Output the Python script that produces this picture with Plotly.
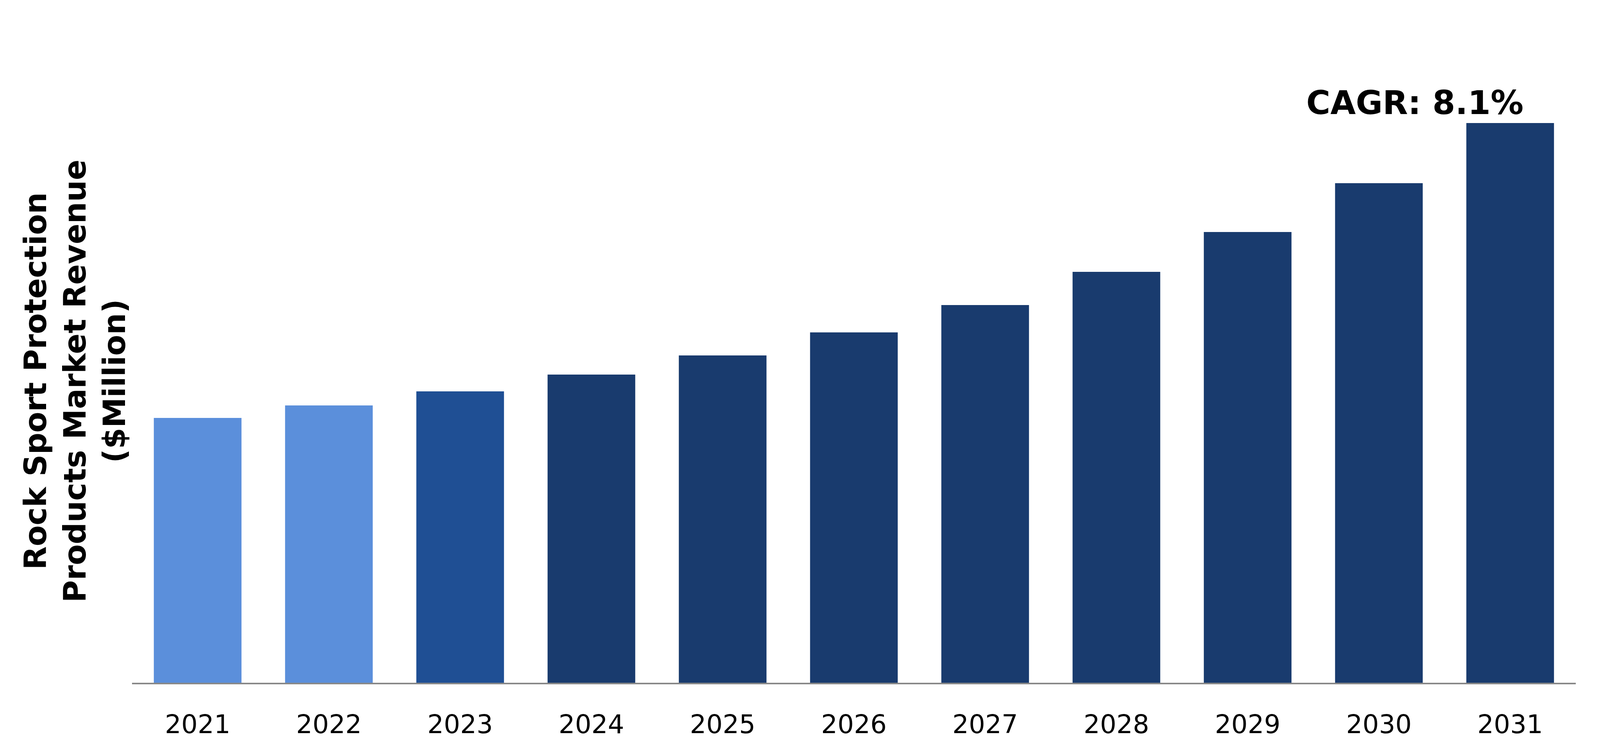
import plotly.graph_objects as go

# Rock sport protection products market revenue ($Million)
years = ['2021', '2022', '2023', '2024', '2025', '2026', '2027', '2028', '2029', '2030', '2031']
revenue = [67.8, 71.0, 74.6, 78.9, 83.8, 89.7, 96.7, 105.2, 115.4, 127.9, 143.3]
bar_colors = ['#5B8FDB', '#5B8FDB', '#1F4F94', '#193B6E', '#193B6E', '#193B6E',
              '#193B6E', '#193B6E', '#193B6E', '#193B6E', '#193B6E']

y_title = 'Rock Sport Protection<br>Products Market Revenue<br>($Million)'
cagr_text = 'CAGR: 8.1%'

# the browser page is only 4096 px wide, so the figure is laid out at that width
W, H = 4096, 1933

fig = go.Figure()
fig.add_trace(go.Bar(x=years, y=revenue, marker=dict(color=bar_colors, line=dict(width=0)),
                     hoverinfo='x+y'))

fig.update_xaxes(type='category', showline=True, linecolor='#888888', linewidth=4,
                 showgrid=False, zeroline=False, ticks='outside', ticklen=46, tickcolor='rgba(0,0,0,0)',
                 tickfont=dict(family='DejaVu Sans', size=66, color='#000000'))
fig.update_yaxes(range=[0, 160], visible=False, showgrid=False, zeroline=False)

# y-axis title as an annotation so it can sit exactly where the original has it
fig.add_annotation(text=y_title, xref='paper', yref='paper', x=-0.0396, y=0.4825,
                   xanchor='center', yanchor='middle', textangle=-90, showarrow=False,
                   font=dict(family='DejaVu Sans', size=78, color='#000000', weight='bold'))
fig.add_annotation(text=cagr_text, xref='paper', yref='paper', x=0.8885, y=0.928,
                   xanchor='center', yanchor='middle', showarrow=False,
                   font=dict(family='DejaVu Sans', size=84, color='#000000', weight='bold'))

fig.update_layout(width=W, height=H, bargap=0.332, showlegend=False,
                  plot_bgcolor='white', paper_bgcolor='white',
                  margin=dict(l=330, r=70, t=140, b=193))
fig.write_html("out.html")
